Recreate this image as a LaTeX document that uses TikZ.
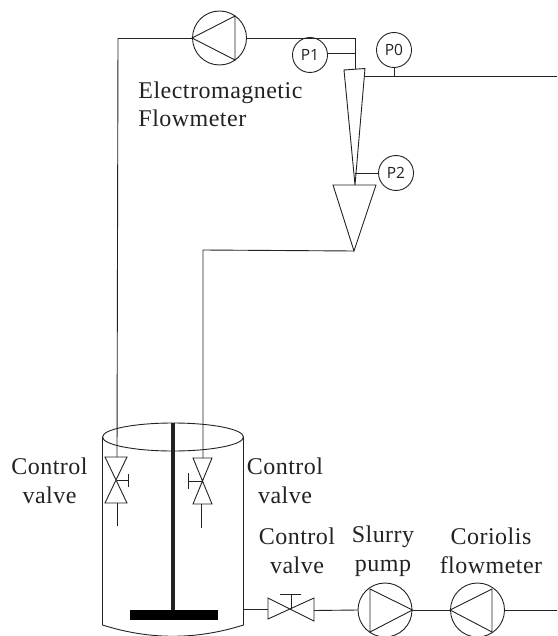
\documentclass[tikz,border=0pt]{standalone}
\usepackage{fontspec}
\setmainfont[LetterSpace=2]{Liberation Serif}
\newfontfamily\gaugefont{Open Sans}
\usetikzlibrary{positioning}
\definecolor{inkgray}{HTML}{222222}
\begin{document}
\begin{tikzpicture}[x=1pt, y=-1pt, line width=0.9pt, draw=inkgray,
    pump node/.style={circle, draw, inner sep=0pt, minimum size=54pt},
    gauge node/.style={circle, draw, inner sep=0pt, minimum size=35pt, font=\gaugefont\fontsize{15.5}{15.5}\selectfont, text=inkgray},
    label node/.style={align=center, inner sep=0pt, font=\fontsize{24}{28.5}\selectfont, text=inkgray},
    wedge/.style={draw, line join=miter}]

    \useasboundingbox[clip] (0,0) rectangle (557,636);

    % Pumps and gauges
    \node[pump node] (EM) at (219.5,38) {};
    \node[pump node] (SP) at (385,610) {};
    \node[pump node] (CF) at (477.5,610) {};
    \node[gauge node] (P1) at (310,55) {P1};
    \node[gauge node] (P0) at (394,50) {P0};
    \node[gauge node] (P2) at (396,173) {P2};

    % Pump triangles
    \draw[wedge] (EM.west) -- (235,16) -- (235,60) -- cycle;
    \draw[wedge] (SP.east) -- (370,589) -- (370,632) -- cycle;
    \draw[wedge] (CF.west) -- (492,589) -- (492,632) -- cycle;

    % Venturi and cone
    \coordinate (VT) at (355,69);
    \coordinate (VR) at (364.5,76);
    \coordinate (VN) at (355,185);
    \coordinate (CA) at (354,251);
    \draw[wedge] (344,70) -- (365,68.5) -- (VN) -- cycle;
    \draw[wedge] (333,185) -- (376,185) -- (CA) -- cycle;

    % Pipes at the top
    \coordinate (LT) at (118,38);
    \coordinate (RT) at (355,38);
    \coordinate (OT) at (557,76);
    \coordinate (P1T) at (355,53);
    \coordinate (P2T) at (355,173);
    \coordinate (P0T) at (394,76);
    \coordinate (RB) at (203,250);
    \draw (EM.east) -- (RT) -- (VT);
    \draw (EM.west) -- (LT);
    \draw (P1.east |- P1T) -- (P1T);
    \draw (P2.west |- P2T) -- (P2T);
    \draw (P0) -- (P0T);
    \draw (VR) -- (OT);

    % Tank
    \draw (173,437) ellipse [x radius=70.5, y radius=14];
    \draw (102.5,437) -- (102.5,625) .. controls (150,640) and (196,640) .. (243.5,625) -- (243.5,437);
    \draw[line width=3.4pt] (173,423) -- (173,610);
    \fill[black] (130,609.5) rectangle (218,620);

    % Left valve
    \coordinate (LV) at (116.5,480);
    \draw (105,457) -- (127,457) -- (105,503) -- (127,503) -- cycle;
    \draw (LV) -- (128,480) (128,474) -- (128,487);
    \draw (LT) -- (117,457);
    \draw (117,503) -- (117,526);

    % Right valve
    \coordinate (RV) at (202.5,481);
    \draw (193,458) -- (212,458) -- (193,504) -- (212,504) -- cycle;
    \draw (RV) -- (188,481) (188,473) -- (188,489);
    \draw (CA) -- (RB) -- (203,458);
    \draw (201,504) -- (201,528);

    % Bottom valve and line
    \coordinate (BV) at (291,609);
    \draw (268,598) -- (268,619) -- (314,598) -- (314,621) -- cycle;
    \draw (BV) -- (291,594) (280,594) -- (301,594);
    \draw (243.5,609) -- (268,609);
    \draw (314,610.5) -- (SP.west);
    \draw (SP.east) -- (CF.west);
    \draw (CF.east) -- (557,610);

    % Labels
    \node[label node, align=left, anchor=north west] (EML) at (138,81) {Electromagnetic\\Flowmeter};
    \node[label node] (CV1) at (49.5,481) {Control\\valve};
    \node[label node] (CV2) at (285,481) {Control\\valve};
    \node[label node] (CV3) at (297,551) {Control\\valve};
    \node[label node] (SPL) at (383,551) {Slurry\\pump};
    \node[label node] (CFL) at (491,551) {Coriolis\\flowmeter};

\end{tikzpicture}
\end{document}
